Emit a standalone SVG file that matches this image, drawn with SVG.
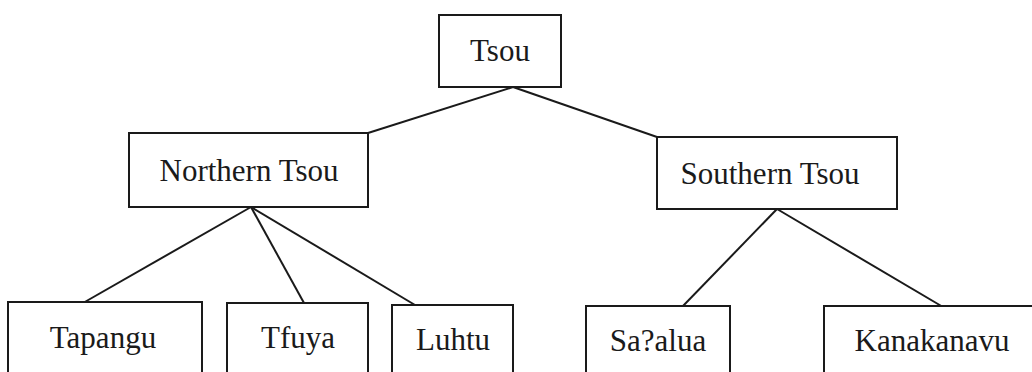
<svg xmlns="http://www.w3.org/2000/svg" width="1032" height="372" viewBox="0 0 1032 372">
<style>
.box{fill:#fff;stroke:#1a1a1a;stroke-width:2}
.lbl{font-family:"Liberation Serif","Times New Roman",serif;font-size:31px;fill:#1a1a1a;text-anchor:middle}
.edge{stroke:#1a1a1a;stroke-width:2;fill:none}
</style>
<rect width="1032" height="372" fill="#fff"/>
<g id="connectors">
<line class="edge" x1="513" y1="87" x2="368" y2="133"/>
<line class="edge" x1="513" y1="87" x2="657" y2="137"/>
<line class="edge" x1="251" y1="207" x2="83" y2="303"/>
<line class="edge" x1="251" y1="207" x2="304" y2="303"/>
<line class="edge" x1="251" y1="207" x2="415" y2="305"/>
<line class="edge" x1="777" y1="209" x2="683" y2="306"/>
<line class="edge" x1="777" y1="209" x2="943" y2="307"/>
</g>
<g id="tsou">
<rect class="box" x="439" y="15" width="122" height="72"/>
<text class="lbl" x="500" y="61">Tsou</text>
</g>
<g id="northern-tsou">
<rect class="box" x="129" y="133" width="239" height="74"/>
<text class="lbl" x="249" y="181">Northern Tsou</text>
</g>
<g id="southern-tsou">
<rect class="box" x="657" y="137" width="240" height="72"/>
<text class="lbl" x="770" y="184">Southern Tsou</text>
</g>
<g id="tapangu">
<rect class="box" x="8" y="302" width="194" height="90"/>
<text class="lbl" x="103" y="348">Tapangu</text>
</g>
<g id="tfuya">
<rect class="box" x="227" y="303" width="141" height="90"/>
<text class="lbl" x="298" y="348">Tfuya</text>
</g>
<g id="luhtu">
<rect class="box" x="392" y="305" width="121" height="90"/>
<text class="lbl" x="453" y="350">Luhtu</text>
</g>
<g id="saalua">
<rect class="box" x="586" y="306" width="144" height="90"/>
<text class="lbl" x="658" y="351">Sa?alua</text>
</g>
<g id="kanakanavu">
<rect class="box" x="824" y="306" width="230" height="90"/>
<text class="lbl" x="932" y="351">Kanakanavu</text>
</g>
</svg>
